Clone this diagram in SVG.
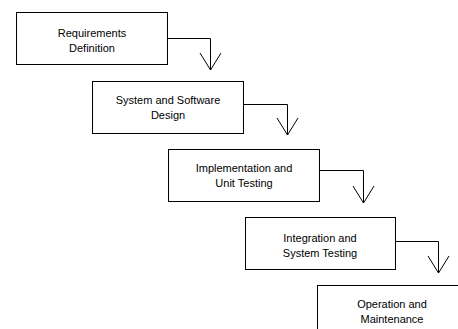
<svg xmlns="http://www.w3.org/2000/svg" width="458" height="329" viewBox="0 0 458 329">
<style>
.box{fill:#fff;stroke:#000;stroke-width:1}
.lbl{font-family:"Liberation Sans",Arial,sans-serif;font-size:11px;fill:#000;text-anchor:middle}
.conn{fill:none;stroke:#000;stroke-width:1}
</style>
<rect width="458" height="329" fill="#fff"/>
<g id="connectors">
<path class="conn" d="M167.5 38.5H210.5V70"/>
<path class="conn" d="M200 53L210.5 70L221 53"/>
<path class="conn" d="M243.5 104.5H287.5V135"/>
<path class="conn" d="M277 118L287.5 135L298 118"/>
<path class="conn" d="M319.5 170.5H363.5V203"/>
<path class="conn" d="M353 186L363.5 203L374 186"/>
<path class="conn" d="M395.5 241.5H438.5V273"/>
<path class="conn" d="M428 256L438.5 273L449 256"/>
</g>
<g id="n1">
<rect class="box" x="16.5" y="12.5" width="151" height="52"/>
<text class="lbl" x="92" y="37">Requirements</text>
<text class="lbl" x="92" y="52">Definition</text>
</g>
<g id="n2">
<rect class="box" x="92.5" y="81.5" width="151" height="52"/>
<text class="lbl" x="168" y="104">System and Software</text>
<text class="lbl" x="168" y="119">Design</text>
</g>
<g id="n3">
<rect class="box" x="168.5" y="149.5" width="151" height="52"/>
<text class="lbl" x="244" y="172">Implementation and</text>
<text class="lbl" x="244" y="187">Unit Testing</text>
</g>
<g id="n4">
<rect class="box" x="245.5" y="217.5" width="150" height="52"/>
<text class="lbl" x="320" y="242">Integration and</text>
<text class="lbl" x="320" y="257">System Testing</text>
</g>
<g id="n5">
<rect class="box" x="317.5" y="285.5" width="151" height="52"/>
<text class="lbl" x="392" y="308">Operation and</text>
<text class="lbl" x="392" y="323">Maintenance</text>
</g>
</svg>
